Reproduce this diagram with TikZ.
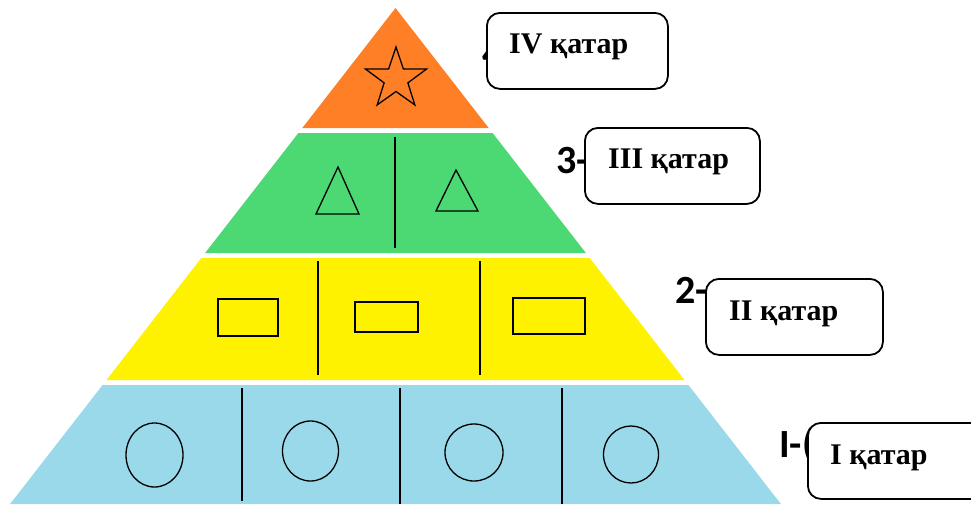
\documentclass[tikz,border=0pt]{standalone}
\usepackage{fontspec}
\setmainfont{Liberation Serif}
\newfontfamily\numfont{Carlito}
\usetikzlibrary{positioning,calc}
\definecolor{layerorange}{RGB}{255,127,39}
\definecolor{layergreen}{RGB}{76,217,116}
\definecolor{layeryellow}{RGB}{255,242,0}
\definecolor{layerblue}{RGB}{153,217,234}
\tikzset{
  rowbox/.style={draw, line width=1.8pt, rounded corners=13pt, fill=white,
    anchor=north west, minimum width=#1, minimum height=76pt, inner sep=0pt},
  rowtext/.style={font=\fontsize{30}{36}\selectfont\bfseries, anchor=base west, inner sep=0pt},
  rownum/.style={font=\numfont\fontsize{40}{48}\selectfont\bfseries, anchor=base west, inner sep=0pt},
  divider/.style={line width=1.6pt},
  shapeline/.style={line width=1.3pt}
}
\begin{document}
\begin{tikzpicture}[x=1pt,y=-1pt]
\clip (0,0) rectangle (971,504);
% layers of the pyramid
\fill[layerorange] (395.5,8) -- (488.7,128) -- (302.3,128) -- cycle; % IV
\fill[layergreen] (298.4,133) -- (492.6,133) -- (585.9,253) -- (205.1,253) -- cycle; % III
\fill[layeryellow] (201.3,258) -- (589.7,258) -- (684.5,380) -- (106.5,380) -- cycle; % II
\fill[layerblue] (102.6,385) -- (688.4,385) -- (780.9,504) -- (10.1,504) -- cycle; % I
% dividers
\draw[divider] (395,137) -- (395,248);
\draw[divider] (318,261) -- (318,375);
\draw[divider] (480,261) -- (480,375);
\draw[divider] (242,388) -- (242,501);
\draw[divider] (400,388) -- (400,504);
\draw[divider] (562,388) -- (562,504);
% star
\draw[shapeline, shift={(396,79)}] (-90:32) -- (-54:12.5) -- (-18:32) -- (18:12.5)
  -- (54:32) -- (90:12.5) -- (126:32) -- (162:12.5) -- (198:32) -- (234:12.5) -- cycle;
% triangles
\draw[shapeline] (338,167) -- (359,214) -- (316,214) -- cycle;
\draw[shapeline] (456,170) -- (478,211) -- (436,211) -- cycle;
% rectangles
\draw[shapeline] (218,299) rectangle (278,336);
\draw[shapeline] (355,302) rectangle (418,332);
\draw[shapeline] (513,298) rectangle (585,334);
% circles
\draw[shapeline] (154.5,455) ellipse [x radius=28.5, y radius=32];
\draw[shapeline] (310.5,451) ellipse [x radius=28, y radius=30];
\draw[shapeline] (474,452.5) ellipse [x radius=29, y radius=28.5];
\draw[shapeline] (631,454.5) ellipse [x radius=27.5, y radius=28.5];
% numbers behind the boxes
\node[rownum] (n4) at (482,66) {4-};
\node[rownum] (n3) at (556,173) {3-};
\node[rownum] (n2) at (675,303) {2-};
\node[rownum] (n1) at (779,457) {I-(};
% boxes
\node[rowbox=181pt] (b4) at (486,12) {};
\node[rowbox=175pt] (b3) at (584,127) {};
\node[rowbox=177pt] (b2) at (705,278) {};
\node[rowbox=177pt] (b1) at (807,422) {};
\node[rowtext] (t4) at ([shift={(23,41)}]b4.north west) {IV қатар};
\node[rowtext] (t3) at ([shift={(24,41)}]b3.north west) {III қатар};
\node[rowtext] (t2) at ([shift={(24,42)}]b2.north west) {II қатар};
\node[rowtext] (t1) at ([shift={(23,42)}]b1.north west) {I қатар};
\end{tikzpicture}
\end{document}
